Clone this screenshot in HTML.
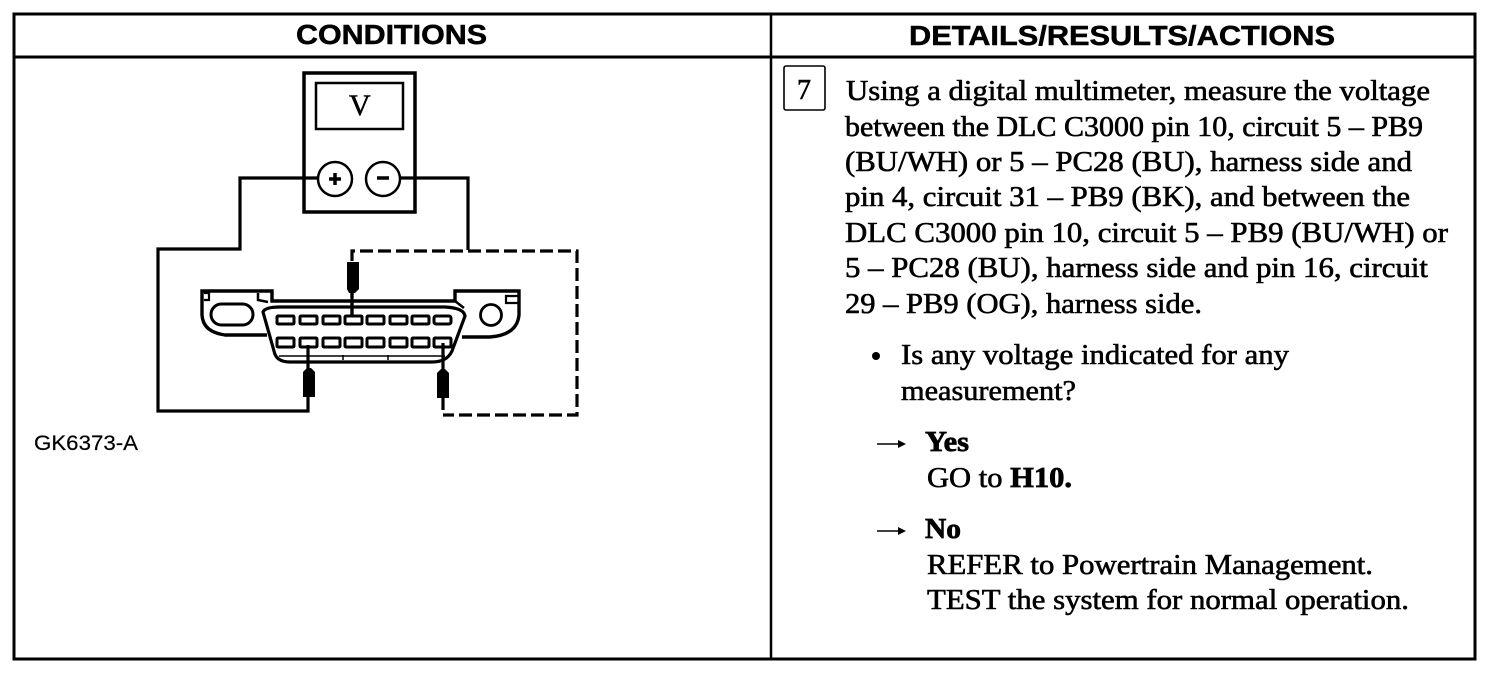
<!DOCTYPE html>
<html><head><meta charset="utf-8"><style>
html,body{margin:0;padding:0;background:#fff;width:1504px;height:676px;overflow:hidden}
svg{display:block}
.h{font:bold 27.5px "Liberation Sans",sans-serif;stroke:#000;stroke-width:.5}
.t{font:28px "Liberation Serif",serif;stroke:#000;stroke-width:.6}
.b{font:bold 28px "Liberation Serif",serif;stroke:#000;stroke-width:.7}
</style></head><body>
<svg width="1504" height="676" viewBox="0 0 1504 676" xmlns="http://www.w3.org/2000/svg">
<g fill="none" stroke="#000">
<rect x="14" y="14" width="1461" height="645" stroke-width="3"/>
<path d="M14 57H1475" stroke-width="3"/>
<path d="M771 14V659" stroke-width="2.5"/>
<!-- meter -->
<rect x="304" y="73" width="111" height="139" stroke-width="3.5"/>
<rect x="316" y="83" width="87" height="46" stroke-width="2.5"/>
<circle cx="335" cy="179" r="17" stroke-width="2.5"/>
<circle cx="383" cy="179" r="17" stroke-width="2.5"/>
<path d="M329 179H341M335 173V185" stroke-width="3.5"/>
<path d="M377 178H389" stroke-width="3.5"/>
<!-- wires -->
<path d="M318 178H240V249H158V411H308V345" stroke-width="3.2"/>
<path d="M400 178H468V250" stroke-width="3.2"/>
<path d="M352 315V251H577V415H443" stroke-width="3.2" stroke-dasharray="13 5"/>
<path d="M352 262V315" stroke-width="3.2"/>
<path d="M443 343V410" stroke-width="3.2"/>
<!-- connector shell -->
<path d="M267 335H225Q203 332 202 315V291H272V301H455V291H519V315Q517 335 490 337H462" stroke-width="3.4"/>
<path d="M204 293H209V300H204M519 296H506V303H519" stroke-width="2.2"/>
<path d="M258 293V300L268 302M455 301L464 308" stroke-width="2.5"/>
<path d="M263 312Q265 307 280 307H445Q464 308 465 316L452 351Q447 362 432 362H290Q276 362 274 351Z" stroke-width="3.2"/>
<path d="M279 356H445M343 355V360M388 355V360" stroke-width="1.5"/>
<rect x="211" y="304" width="42" height="21" rx="10.5" stroke-width="3"/>
<circle cx="491" cy="315" r="10.5" stroke-width="2.8"/>
<!-- pins -->
<g stroke-width="3">
<rect x="277" y="316" width="17" height="8" rx="1"/><rect x="300" y="316" width="17" height="8" rx="1"/><rect x="323" y="316" width="17" height="8" rx="1"/><rect x="345" y="316" width="17" height="8" rx="1"/><rect x="367" y="316" width="17" height="8" rx="1"/><rect x="390" y="316" width="17" height="8" rx="1"/><rect x="412" y="316" width="17" height="8" rx="1"/><rect x="434" y="316" width="17" height="8" rx="2"/>
<rect x="277" y="338" width="17" height="9" rx="1"/><rect x="300" y="338" width="17" height="9" rx="1"/><rect x="323" y="338" width="17" height="9" rx="1"/><rect x="345" y="338" width="17" height="9" rx="1"/><rect x="367" y="338" width="17" height="9" rx="1"/><rect x="390" y="338" width="17" height="9" rx="1"/><rect x="412" y="338" width="17" height="9" rx="1"/><rect x="434" y="338" width="17" height="9" rx="1"/>
</g>
<!-- box 7 -->
<rect x="784" y="66" width="41" height="44" rx="2" stroke-width="1.6"/>
<!-- arrows -->
<path d="M877 444H902M877 531H902" stroke-width="1.5"/>
</g>
<!-- probes -->
<g fill="#000">
<path d="M347 262H359V289L355 293H349L347 289Z"/>
<path d="M303 397H315V372L311 368H307L303 372Z"/>
<path d="M437 398H449V373L445 369H441L437 373Z"/>
<path d="M898 440L906 444L898 448ZM898 527L906 531L898 535Z"/>
</g>
<text class="h" x="296" y="44" textLength="191" lengthAdjust="spacingAndGlyphs">CONDITIONS</text>
<text class="h" x="909" y="45" textLength="426" lengthAdjust="spacingAndGlyphs">DETAILS/RESULTS/ACTIONS</text>
<text x="349" y="115" style="font:30px 'Liberation Serif',serif;stroke:#000;stroke-width:.5">V</text>
<text x="34" y="450" textLength="104" lengthAdjust="spacingAndGlyphs" style="font:21px 'Liberation Sans',sans-serif;stroke:#000;stroke-width:.2">GK6373-A</text>
<text class="t" x="797" y="99">7</text>
<text class="t" x="846" y="100" textLength="584" lengthAdjust="spacingAndGlyphs">Using a digital multimeter, measure the voltage</text>
<text class="t" x="845" y="136" textLength="578" lengthAdjust="spacingAndGlyphs">between the DLC C3000 pin 10, circuit 5 – PB9</text>
<text class="t" x="845" y="171" textLength="567" lengthAdjust="spacingAndGlyphs">(BU/WH) or 5 – PC28 (BU), harness side and</text>
<text class="t" x="845" y="206" textLength="565" lengthAdjust="spacingAndGlyphs">pin 4, circuit 31 – PB9 (BK), and between the</text>
<text class="t" x="845" y="242" textLength="603" lengthAdjust="spacingAndGlyphs">DLC C3000 pin 10, circuit 5 – PB9 (BU/WH) or</text>
<text class="t" x="845" y="277" textLength="583" lengthAdjust="spacingAndGlyphs">5 – PC28 (BU), harness side and pin 16, circuit</text>
<text class="t" x="845" y="313" textLength="357" lengthAdjust="spacingAndGlyphs">29 – PB9 (OG), harness side.</text>
<circle cx="876" cy="356" r="4" fill="#000"/>
<text class="t" x="901" y="364" textLength="388" lengthAdjust="spacingAndGlyphs">Is any voltage indicated for any</text>
<text class="t" x="901" y="400" textLength="175" lengthAdjust="spacingAndGlyphs">measurement?</text>
<text class="b" x="925" y="451" textLength="44" lengthAdjust="spacingAndGlyphs">Yes</text>
<text class="t" x="927" y="487" textLength="145" lengthAdjust="spacingAndGlyphs">GO to <tspan class="b">H10.</tspan></text>
<text class="b" x="925" y="538" textLength="36" lengthAdjust="spacingAndGlyphs">No</text>
<text class="t" x="927" y="574" textLength="446" lengthAdjust="spacingAndGlyphs">REFER to Powertrain Management.</text>
<text class="t" x="927" y="609" textLength="482" lengthAdjust="spacingAndGlyphs">TEST the system for normal operation.</text>
</svg>
</body></html>
